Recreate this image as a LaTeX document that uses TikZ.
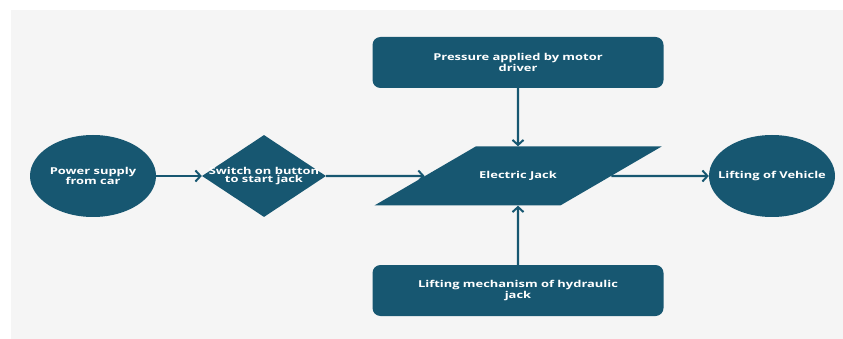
\documentclass[tikz,border=0pt]{standalone}
\usepackage{fontspec}
\setsansfont{Open Sans}[FakeStretch=1.36]
\usetikzlibrary{shapes.geometric,arrows.meta}
\definecolor{jackteal}{RGB}{23,87,113}
\definecolor{jackbg}{RGB}{245,245,245}
\tikzset{
    block/.style={fill=jackteal, draw=none, text=white, align=center,
        font=\sffamily\bfseries\fontsize{9.5}{8.5}\selectfont, inner sep=0pt},
    flow/.style={draw=jackteal, line width=2.2pt,
        -{Straight Barb[length=5pt,width=11pt,line width=2pt]}}
}
\begin{document}
\begin{tikzpicture}[x=1pt, y=-1pt]
    % Page and grey sheet
    \useasboundingbox (0,0) rectangle (843,339);
    \fill[white] (0,0) rectangle (843,339);
    \fill[jackbg] (11,10) rectangle (843,339);
    % Round terminals
    \foreach \n/\x/\t in {power/93/{Power supply\\from car}, vehicle/772/{Lifting of Vehicle}} {
        \node[block, ellipse, minimum width=126pt, minimum height=82pt,
            label={[block, fill=none]center:\t}] (\n) at (\x,176) {};
    }
    % Decision
    \node[block, diamond, minimum width=124pt, minimum height=82pt,
        label={[block, fill=none]center:Switch on button\\to start jack}] (switch) at (264,176) {};
    % Process
    \node[block, trapezium, trapezium left angle=32.4, trapezium right angle=147.6,
        trapezium stretches=true, text height=7pt, text depth=2pt, inner ysep=25pt,
        minimum width=288pt] (jack) at (518,176) {Electric Jack};
    % Input boxes
    \foreach \n/\y/\t in {pressure/62.5/{Pressure applied by motor\\driver}, mechanism/290.5/{Lifting mechanism of hydraulic\\jack}} {
        \node[block, rounded corners=8pt, minimum width=291pt, minimum height=51pt] (\n) at (518,\y) {\t};
    }
    % Connectors
    \draw[flow] (power) -- (switch);
    \draw[flow] (switch) -- (jack);
    \draw[flow] (jack) -- (vehicle);
    \draw[flow] (pressure) -- (jack);
    \draw[flow] (mechanism) -- (jack);
\end{tikzpicture}
\end{document}
